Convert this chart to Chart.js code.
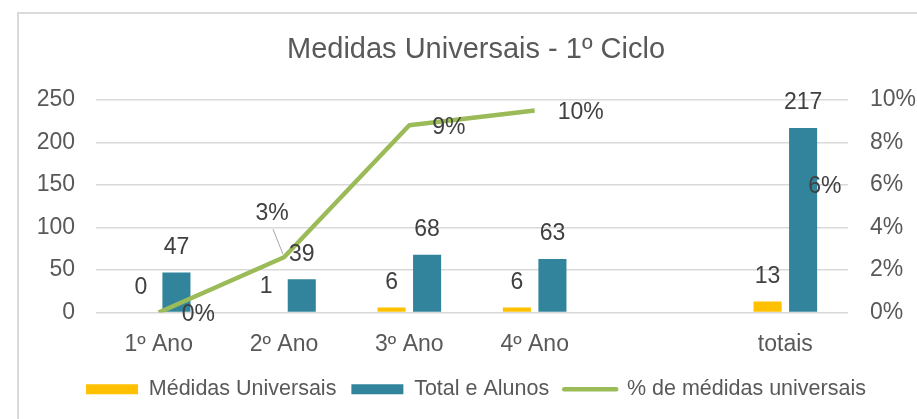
<!DOCTYPE html>
<html>
<head>
<meta charset="utf-8">
<script src="https://cdn.jsdelivr.net/npm/chart.js@4.4.0/dist/chart.umd.min.js"></script>
<style>
  body { margin: 0; background: #fff; }
  #frame { position: absolute; left: 17px; top: 12px; width: 920px; height: 420px;
           border-left: 2px solid #dadada; border-top: 2px solid #dadada; }
  #wrap { position: absolute; left: 0; top: 0; width: 917px; height: 419px; }
</style>
</head>
<body>
<div id="frame"></div>
<div id="wrap"><canvas id="chart"></canvas></div>
<script>
// dados
const anos = ["1º Ano", "2º Ano", "3º Ano", "4º Ano", "", "totais"];
const medidasUniversais = [0, 1, 6, 6, null, 13];
const totalAlunos = [47, 39, 68, 63, null, 217];
const percentMedidas = [0, 2.6, 8.8, 9.5, null, 6.0];   // em %

const leftTicks = [0, 50, 100, 150, 200, 250];
const rightTicks = [0, 2, 4, 6, 8, 10];

const FONT = "'Liberation Sans', Arial, sans-serif";
Chart.defaults.font.family = FONT;
Chart.defaults.color = "#595959";

// rótulos de dados (não há plugin datalabels disponível)
const valueLabels = {
    id: "valueLabels",
    afterDatasetsDraw(chart) {
        const ctx = chart.ctx;
        ctx.save();
        ctx.font = "23px " + FONT;
        ctx.fillStyle = "#404040";
        ctx.textBaseline = "middle";
        chart.data.datasets.forEach((ds, di) => {
            const meta = chart.getDatasetMeta(di);
            meta.data.forEach((el, i) => {
                const v = ds.data[i];
                if (v === null || v === undefined) return;
                if (ds.type === "line") {
                    const txt = Math.round(v) + "%";
                    if (i === 1) {
                        // rótulo deslocado com linha de chamada
                        ctx.strokeStyle = "#a6a6a6";
                        ctx.lineWidth = 1;
                        ctx.beginPath();
                        ctx.moveTo(el.x - 11, el.y - 28);
                        ctx.lineTo(el.x - 1, el.y - 3);
                        ctx.stroke();
                        ctx.textAlign = "center";
                        ctx.fillText(txt, el.x - 12, el.y - 44);
                    } else {
                        ctx.textAlign = "left";
                        ctx.fillText(txt, el.x + 23, el.y + 2);
                    }
                } else {
                    ctx.textAlign = "center";
                    ctx.fillText(String(v), el.x, el.y - 25);
                }
            });
        });
        ctx.restore();
    }
};

const defaultLabels = Chart.defaults.plugins.legend.labels.generateLabels;

new Chart(document.getElementById("chart"), {
    type: "bar",
    data: {
        labels: anos,
        datasets: [
            {
                label: "Médidas Universais",
                data: medidasUniversais,
                backgroundColor: "#FFC000",
                borderWidth: 0,
                pointStyle: "rect",
                yAxisID: "y",
                order: 2,
                categoryPercentage: 0.567,
                barPercentage: 0.79
            },
            {
                label: "Total e Alunos",
                data: totalAlunos,
                backgroundColor: "#31849B",
                borderWidth: 0,
                pointStyle: "rect",
                yAxisID: "y",
                order: 3,
                categoryPercentage: 0.567,
                barPercentage: 0.79
            },
            {
                type: "line",
                label: "% de médidas universais",
                data: percentMedidas,
                borderColor: "#9BBB59",
                backgroundColor: "#9BBB59",
                borderWidth: 4.5,
                borderCapStyle: "butt",
                borderJoinStyle: "round",
                pointRadius: 0,
                pointStyle: "line",
                spanGaps: false,
                tension: 0,
                yAxisID: "y1",
                order: 1
            }
        ]
    },
    options: {
        responsive: true,
        maintainAspectRatio: false,
        animation: false,
        layout: { padding: { left: 35, right: 0, top: 0, bottom: 9 } },
        plugins: {
            title: {
                display: true,
                text: "Medidas Universais - 1º Ciclo",
                color: "#595959",
                font: { size: 29, weight: "normal" },
                padding: { top: 33, bottom: 32 }
            },
            legend: {
                position: "bottom",
                labels: {
                    usePointStyle: true,
                    pointStyleWidth: 52,
                    boxWidth: 52,
                    boxHeight: 10,
                    padding: 15,
                    color: "#595959",
                    font: { size: 21.5 },
                    sort: (a, b) => a.datasetIndex - b.datasetIndex,
                    generateLabels: (chart) => defaultLabels(chart).map(item => {
                        if (item.pointStyle === "line") item.lineCap = "round";
                        return item;
                    })
                }
            },
            tooltip: { enabled: false }
        },
        scales: {
            x: {
                grid: { display: false },
                border: { display: false },
                ticks: { font: { size: 23 }, color: "#595959", padding: 10 },
                afterFit: (s) => { s.height = 51; }
            },
            y: {
                position: "left",
                min: 0,
                max: 250,
                afterBuildTicks: (s) => { s.ticks = leftTicks.map(v => ({ value: v })); },
                grid: { color: "#d9d9d9", lineWidth: 1.5, drawTicks: false },
                border: { display: false },
                ticks: { font: { size: 23 }, color: "#595959", padding: 21 },
                afterFit: (s) => { s.width = 61; }
            },
            y1: {
                position: "right",
                min: 0,
                max: 10,
                afterBuildTicks: (s) => { s.ticks = rightTicks.map(v => ({ value: v })); },
                grid: { display: false, drawTicks: false },
                border: { display: false },
                ticks: {
                    font: { size: 23 }, color: "#595959", padding: 22,
                    callback: (v) => v + "%"
                },
                afterFit: (s) => { s.width = 69; }
            }
        }
    },
    plugins: [valueLabels]
});
</script>
</body>
</html>
